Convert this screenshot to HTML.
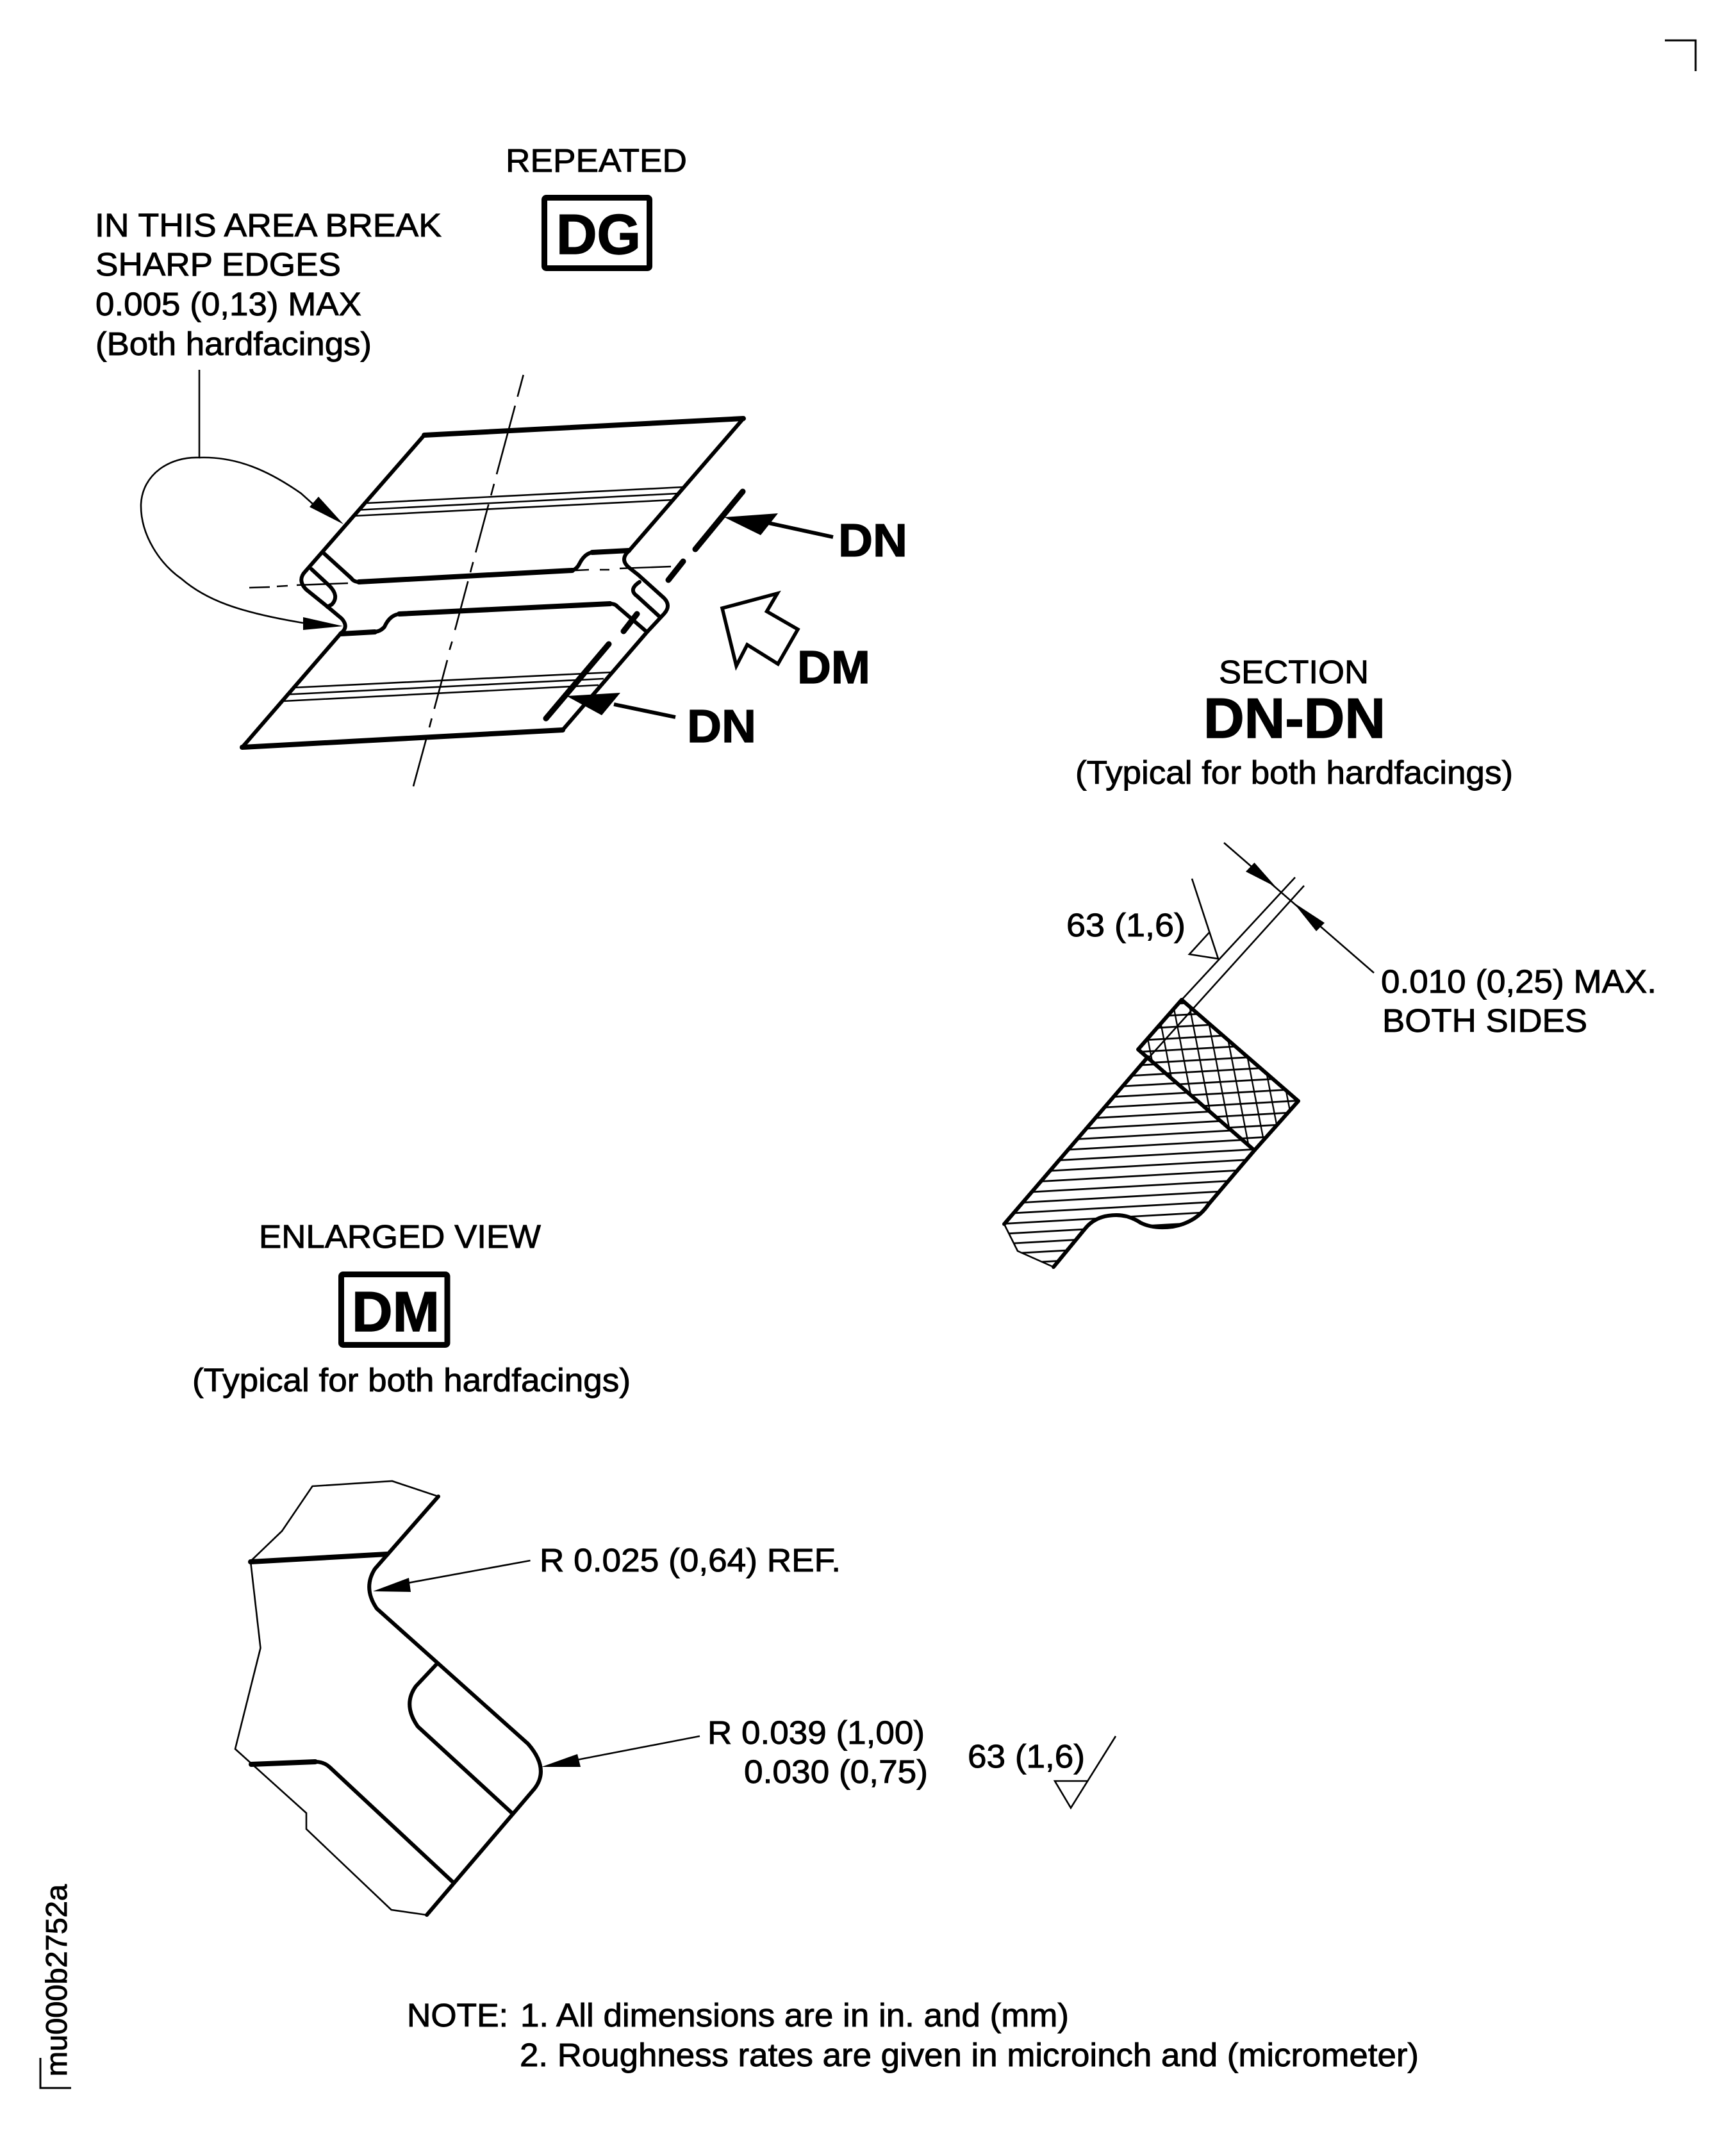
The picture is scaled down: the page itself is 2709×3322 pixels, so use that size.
<!DOCTYPE html>
<html>
<head>
<meta charset="utf-8">
<style>
html,body{margin:0;padding:0;background:#fff}
svg{display:block}
text{font-family:"Liberation Sans",Arial,sans-serif;fill:#000;stroke:#000;stroke-width:0.9px}
.n{font-size:51px}
.b{font-size:72px;font-weight:bold;stroke-width:1.2px}
.bb{font-size:88px;font-weight:bold;stroke-width:1.4px}
.t{fill:none;stroke:#000;stroke-width:2.6}
.k{fill:none;stroke:#000;stroke-width:6;stroke-linejoin:round;stroke-linecap:round}
.w{fill:none;stroke:#000;stroke-width:8;stroke-linecap:round}
.s{fill:none;stroke:#000;stroke-width:9;stroke-linecap:round}
</style>
</head>
<body>
<svg width="2709" height="3322" viewBox="0 0 2709 3322" xmlns="http://www.w3.org/2000/svg">
<defs>
<pattern id="h1" patternUnits="userSpaceOnUse" width="400" height="15.7" patternTransform="translate(1567 1908) skewY(-3.2)">
<rect x="0" y="0" width="400" height="2.8" fill="#000"/>
</pattern>
<pattern id="h2" patternUnits="userSpaceOnUse" width="400" height="18" patternTransform="translate(1776 1640) skewY(-3.2)">
<rect x="0" y="0" width="400" height="2.8" fill="#000"/>
</pattern>
<pattern id="h3" patternUnits="userSpaceOnUse" width="25" height="400" patternTransform="translate(1830 1570) skewX(11)">
<rect x="0" y="0" width="2.4" height="400" fill="#000"/>
</pattern>
</defs>
<rect width="2709" height="3322" fill="#fff"/>

<!-- corner marks -->
<path d="M2598 63H2646V111" fill="none" stroke="#000" stroke-width="3"/>
<path d="M63 3211V3258H111" fill="none" stroke="#000" stroke-width="3"/>
<text class="n" style="font-size:46px" transform="translate(104 3240) rotate(-90)" textLength="300" lengthAdjust="spacingAndGlyphs">mu000b2752a</text>

<!-- top labels -->
<text class="n" x="789" y="268" textLength="283" lengthAdjust="spacingAndGlyphs">REPEATED</text>
<rect x="849.5" y="308.5" width="164" height="110" rx="3" fill="none" stroke="#000" stroke-width="9"/>
<text class="bb" x="868" y="396" textLength="132" lengthAdjust="spacingAndGlyphs">DG</text>
<text class="n" x="148" y="369" textLength="541" lengthAdjust="spacingAndGlyphs">IN THIS AREA BREAK</text>
<text class="n" x="149" y="430" textLength="383" lengthAdjust="spacingAndGlyphs">SHARP EDGES</text>
<text class="n" x="149" y="492" textLength="415" lengthAdjust="spacingAndGlyphs">0.005 (0,13) MAX</text>
<text class="n" x="149" y="554" textLength="431" lengthAdjust="spacingAndGlyphs">(Both hardfacings)</text>

<!-- leader -->
<path class="t" d="M311 577V714C265 712 222 740 220 787C219 835 250 880 283 903C320 935 370 955 473 972"/>
<path class="t" d="M311 714C370 712 420 735 470 770L500 797"/>
<path d="M536 818L497 775L483 791Z" fill="#000"/>
<path d="M535 977L473 963V983Z" fill="#000"/>

<!-- centre lines -->
<g class="t">
<path d="M816.7 585L807.6 619M803.8 633L775 740M771 755L766.2 773M762.4 787L742.3 862M738.3 877L734 893M730.3 907L710 983M705.5 1001L701.5 1014M698 1030L677.7 1106M673.7 1121L670 1135M665.4 1152L645 1227"/>
<path d="M389 917L421 916M432 915L449 914M463 913L543 910M898 890L919 889M936 889L951 889M967 887L1047 884"/>
<path d="M573 785L1066 760M563 795.5L1058 770M552 805L1050 780"/>
<path d="M457 1073L954 1049M450 1083.5L942 1059M442 1094L934 1069"/>
</g>

<!-- parallelogram body -->
<path class="k" d="M662 679L477 891Q463 905 478 920L511.5 947L533 965Q545 978 532 988L378 1166L878 1139L1009 987L1036 958Q1048 945 1036 933L996 897L982 886Q966 873 982 859L1160 653Z"/>
<path class="k" d="M505 863L548 902Q552 908 560 908L893 890Q900 888 904 880Q912 864 924 862L981 859"/>
<path class="k" d="M532 989L585 986Q594 985 600 978Q608 960 623 958L952 942Q960 942 964 947L1007 984"/>
<path class="k" d="M486 888L514 914Q530 930 518 943L511 947"/>
<path class="k" d="M998 908Q980 920 994 930L1029 962"/>
<path class="w" d="M662 679L1160 653M378 1166L878 1139M560 908L893 890M623 958L952 942M532 989L585 986M924 862L981 859"/>

<!-- section cut lines -->
<g class="s">
<path d="M1159 767L1085 857M1066 876L1043 905M994 958L973 985M950 1005L852 1121"/>
</g>

<!-- DN arrows -->
<path d="M1130 807L1214 801L1187 835Z" fill="#000"/>
<path d="M1199 816L1300 838" stroke="#000" stroke-width="6" fill="none"/>
<path d="M884 1086L968 1081L939 1116Z" fill="#000"/>
<path d="M958 1099L1054 1119" stroke="#000" stroke-width="6" fill="none"/>
<text class="b" x="1308" y="868" textLength="108" lengthAdjust="spacingAndGlyphs">DN</text>
<text class="b" x="1072" y="1158" textLength="108" lengthAdjust="spacingAndGlyphs">DN</text>
<text class="b" x="1244" y="1066" textLength="114" lengthAdjust="spacingAndGlyphs">DM</text>

<!-- open arrow -->
<path d="M1213 926L1127 949L1149 1039L1166 1006L1214 1036L1245 982L1196.5 954Z" fill="none" stroke="#000" stroke-width="5.5" stroke-linejoin="miter"/>

<!-- section labels -->
<text class="n" x="1902" y="1066" textLength="234" lengthAdjust="spacingAndGlyphs">SECTION</text>
<text class="bb" x="1878" y="1151" textLength="284" lengthAdjust="spacingAndGlyphs">DN-DN</text>
<text class="n" x="1678" y="1223" textLength="683" lengthAdjust="spacingAndGlyphs">(Typical for both hardfacings)</text>

<!-- section drawing -->
<clipPath id="cLow"><path d="M1791 1649.5L1567 1910L1588 1952L1644 1977L1693 1917.5Q1710 1896 1742 1896Q1762 1896 1780 1908Q1800 1918 1830 1914Q1865 1908 1886 1879L1957.5 1795Z"/></clipPath>
<clipPath id="cHard"><path d="M1844 1560L2026 1718L1957.5 1795L1776 1637.5Z"/></clipPath>
<rect x="1500" y="1600" width="500" height="400" fill="url(#h1)" clip-path="url(#cLow)"/>
<rect x="1700" y="1500" width="400" height="340" fill="url(#h2)" clip-path="url(#cHard)"/>
<rect x="1700" y="1500" width="400" height="340" fill="url(#h3)" clip-path="url(#cHard)"/>
<path class="t" d="M2021 1369L1844 1560M2035 1382L1793 1650"/>
<path class="t" d="M1910 1315L2144 1518"/>
<path d="M1991 1384L1957.5 1346L1944 1360Z" fill="#000"/>
<path d="M2018 1408L2067 1440L2054 1453Z" fill="#000"/>
<path class="t" d="M1860 1371L1901 1496L1856 1489L1887 1455"/>
<text class="n" x="1664" y="1461" textLength="186" lengthAdjust="spacingAndGlyphs">63 (1,6)</text>
<text class="n" x="2155" y="1549" textLength="430" lengthAdjust="spacingAndGlyphs">0.010 (0,25) MAX.</text>
<text class="n" x="2157" y="1610" textLength="320" lengthAdjust="spacingAndGlyphs">BOTH SIDES</text>
<path d="M1844 1560L2026 1718L1957.5 1795L1776 1637.5Z" fill="none" stroke="#000" stroke-width="6" stroke-linejoin="round"/>
<path class="k" d="M1791 1649.5L1567 1910M1957.5 1795L1886 1879Q1866 1908 1830 1914Q1800 1918 1780 1908Q1762 1896 1742 1896Q1710 1896 1693 1917.5L1644 1977"/>
<path class="t" d="M1567 1910L1588 1952L1644 1977"/>

<!-- enlarged view -->
<text class="n" x="404" y="1947" textLength="440" lengthAdjust="spacingAndGlyphs">ENLARGED VIEW</text>
<rect x="532.5" y="1988.5" width="165.5" height="110" rx="3" fill="none" stroke="#000" stroke-width="9"/>
<text class="bb" x="549" y="2077" textLength="137" lengthAdjust="spacingAndGlyphs">DM</text>
<text class="n" x="300" y="2171" textLength="684" lengthAdjust="spacingAndGlyphs">(Typical for both hardfacings)</text>

<path class="t" d="M684 2335L612 2311L487.5 2319L440 2389L391 2436L406.5 2571.5L367 2729L478 2829V2854L610.6 2980L666 2988"/>
<path class="k" d="M684 2335L585 2448Q566 2478 588 2510L824 2721Q858 2760 834 2791L666 2988"/>
<path class="w" d="M391 2437L604 2425"/>
<path class="k" d="M681 2597L649 2631Q628 2660 652 2694L800 2830"/>
<path class="k" d="M492 2749Q505 2749 514 2757L707 2937"/>
<path class="w" d="M392 2753L492 2749"/>

<path class="t" d="M827.5 2435L620 2473"/>
<path d="M582 2483L638 2462L641 2484Z" fill="#000"/>
<path class="t" d="M1092 2709L890 2748"/>
<path d="M845 2757L901 2737L906 2757Z" fill="#000"/>
<text class="n" x="842" y="2452" textLength="470" lengthAdjust="spacingAndGlyphs">R 0.025 (0,64) REF.</text>
<text class="n" x="1104" y="2721" textLength="339" lengthAdjust="spacingAndGlyphs">R 0.039 (1,00)</text>
<text class="n" x="1161" y="2782" textLength="287" lengthAdjust="spacingAndGlyphs">0.030 (0,75)</text>
<text class="n" x="1510" y="2758" textLength="183" lengthAdjust="spacingAndGlyphs">63 (1,6)</text>
<path class="t" d="M1741 2709L1671 2821L1646 2779H1697"/>

<!-- notes -->
<text class="n" x="635" y="3162" textLength="158" lengthAdjust="spacingAndGlyphs">NOTE:</text>
<text class="n" x="812" y="3162" textLength="856" lengthAdjust="spacingAndGlyphs">1. All dimensions are in in. and (mm)</text>
<text class="n" x="811" y="3224" textLength="1403" lengthAdjust="spacingAndGlyphs">2. Roughness rates are given in microinch and (micrometer)</text>
</svg>
</body>
</html>
